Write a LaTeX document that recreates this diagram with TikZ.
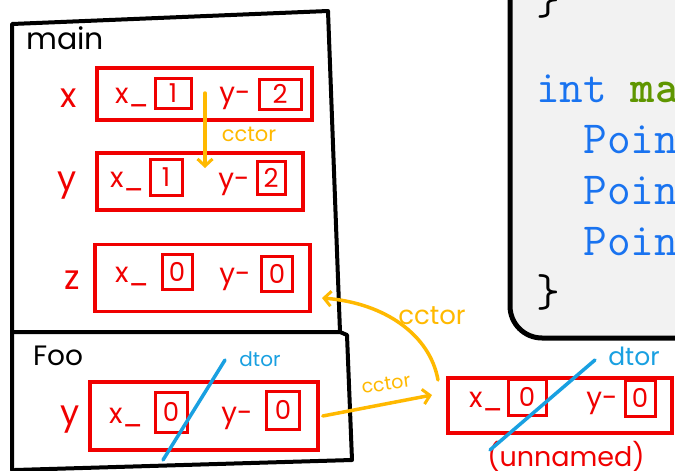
\documentclass[tikz,border=0pt]{standalone}
\usepackage{fontspec}
\setmainfont{Poppins}
\usetikzlibrary{arrows.meta}
\definecolor{hred}{RGB}{240,0,0}
\definecolor{hyel}{RGB}{255,185,0}
\definecolor{hblue}{RGB}{25,160,225}
\definecolor{codebg}{RGB}{242,242,242}
\definecolor{kwblue}{RGB}{25,115,240}
\definecolor{fngreen}{RGB}{95,150,0}
\begin{document}
\begin{tikzpicture}[x=1pt,y=-1pt,
  frame/.style={draw=black, line width=4pt, line join=round, line cap=round},
  obj/.style={draw=hred, line width=3.5pt, rectangle, inner sep=0pt},
  valbox/.style={draw=hred, line width=3pt, rectangle, inner sep=0pt, text=hred,
    font=\fontsize{26}{26}\selectfont},
  field/.style={text=hred, inner sep=0pt, font=\fontsize{28}{28}\selectfont},
  rowlabel/.style={text=hred, inner sep=0pt, font=\fontsize{34}{34}\selectfont},
  cc/.style={draw=hyel, line width=3.5pt, line cap=round,
    -{Straight Barb[length=7pt,width=15pt,line width=3pt]}},
  cclabel/.style={text=hyel, inner sep=0pt},
  dt/.style={draw=hblue, line width=3.5pt, line cap=round},
  dtlabel/.style={text=hblue, inner sep=0pt},
  code/.style={anchor=base west, inner sep=0pt, font=\fontsize{46}{46}\ttfamily}]
\useasboundingbox (0,0) rectangle (675,471);
\clip (0,0) rectangle (675,471);
\fill[white] (0,0) rectangle (675,471);

% code panel
\draw[fill=codebg, line width=5pt, rounded corners=32pt] (510,-60) rectangle (740,338);
\node[code] (br1) at (536,14) {\}};
\node[code] (l1) at (536,102) {\textcolor{kwblue}{int} \textcolor{fngreen}{\bfseries ma}};
\node[code, text=kwblue] (l2) at (536,153) {\ \ Poin};
\node[code, text=kwblue] (l3) at (536,204) {\ \ Poin};
\node[code, text=kwblue] (l4) at (536,255) {\ \ Poin};
\node[code] (br2) at (536,306) {\}};

% stack frames
\draw[frame] (12,470) -- (12,24) -- (328,11) -- (340,332);
\draw[frame] (14,332) -- (340,332) -- (347,335) -- (352,460) -- (15,470);
\node[inner sep=0pt, font=\fontsize{30}{30}\selectfont] (mainlbl) at (65,38) {main};
\node[inner sep=0pt, font=\fontsize{28}{28}\selectfont] (foolbl) at (58,356) {Foo};

% main: x
\node[rowlabel] (lx) at (69,98) {x};
\node[obj, minimum width=215pt, minimum height=52pt] (objx) at (204.5,94) {};
\node[field] (xx) at (132,98) {x\_};
\node[valbox, minimum width=36pt, minimum height=30pt] (xv1) at (173,93) {1};
\node[field] (xy) at (235,98) {y-};
\node[valbox, minimum width=42pt, minimum height=30pt] (xv2) at (280,94) {2};

% main: y
\node[rowlabel] (ly) at (67,186) {y};
\node[obj, minimum width=206pt, minimum height=57pt] (objy) at (200,181.5) {};
\node[field] (yx) at (127,182) {x\_};
\node[valbox, minimum width=32pt, minimum height=36pt] (yv1) at (166,177) {1};
\node[field] (yy) at (234,184) {y-};
\node[valbox, minimum width=28pt, minimum height=33pt] (yv2) at (271,178) {2};

% main: z
\node[rowlabel] (lz) at (72,280) {z};
\node[obj, minimum width=215pt, minimum height=67pt] (objz) at (202.5,278) {};
\node[field] (zx) at (132,277) {x\_};
\node[valbox, minimum width=30pt, minimum height=35pt] (zv1) at (177,272) {0};
\node[field] (zy) at (235,279) {y-};
\node[valbox, minimum width=31pt, minimum height=35pt] (zv2) at (277,274) {0};

% Foo: y
\node[rowlabel] (lfy) at (70,420) {y};
\node[obj, minimum width=228pt, minimum height=68pt] (objfy) at (204,416) {};
\node[field] (fyx) at (126,418) {x\_};
\node[valbox, minimum width=32pt, minimum height=40pt] (fyv1) at (171,412) {0};
\node[field] (fyy) at (237,418) {y-};
\node[valbox, minimum width=33pt, minimum height=38pt] (fyv2) at (283,410) {0};

% unnamed
\node[obj, minimum width=224pt, minimum height=55pt] (objun) at (560,405.5) {};
\node[field] (unx) at (486,402) {x\_};
\node[valbox, minimum width=38pt, minimum height=36pt] (unv1) at (527,397) {0};
\node[field] (uny) at (602,403) {y-};
\node[valbox, minimum width=30pt, minimum height=36pt] (unv2) at (640,398) {0};
\node[text=hred, inner sep=0pt, font=\fontsize{27}{27}\selectfont] (unlbl) at (566,456) {(unnamed)};

% cctor arrows
\coordinate (c1s) at (205,93);
\coordinate (c1e) at (205,168);
\draw[cc] (c1s) -- (c1e);
\node[cclabel, font=\fontsize{21}{21}\selectfont] (cc1) at (249,134) {cctor};

\coordinate (c2s) at (438,380);
\coordinate (c2e) at (322,298);
\draw[cc] (c2s) .. controls (430,335) and (385,303) .. (c2e);
\node[cclabel, font=\fontsize{26}{26}\selectfont] (cc2) at (432,316) {cctor};

\coordinate (c3e) at (432,395);
\draw[cc] ([xshift=3pt]objfy.east) -- (c3e);
\node[cclabel, font=\fontsize{19}{19}\selectfont, rotate=8] (cc3) at (386,384) {cctor};

% dtor strikes
\coordinate (d1a) at (225,360);
\coordinate (d1b) at (163,460);
\draw[dt] (d1a) -- (d1b);
\node[dtlabel, font=\fontsize{20}{20}\selectfont] (dt1) at (260,359) {dtor};
\coordinate (d2a) at (595,360);
\coordinate (d2b) at (490,450);
\draw[dt] (d2a) -- (d2b);
\node[dtlabel, font=\fontsize{25}{25}\selectfont] (dt2) at (634,356) {dtor};
\end{tikzpicture}
\end{document}
